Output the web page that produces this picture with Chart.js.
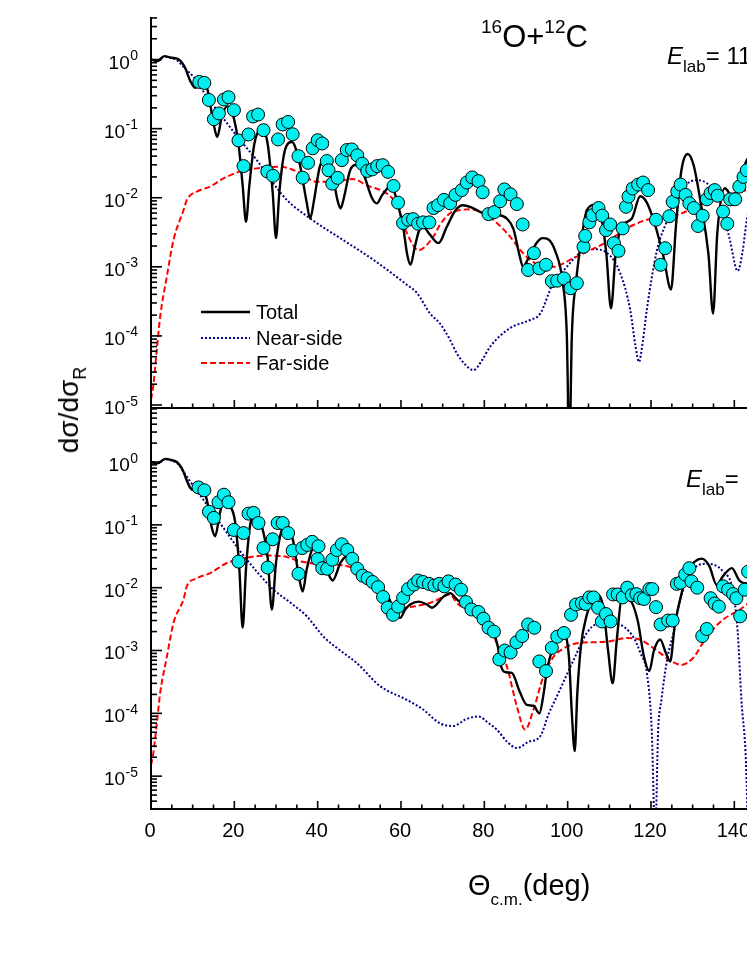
<!DOCTYPE html>
<html>
<head>
<meta charset="utf-8">
<script src="https://cdn.jsdelivr.net/npm/chart.js@4.4.1/dist/chart.umd.min.js"></script>
<style>
  html, body { margin: 0; padding: 0; background: #fff; overflow: hidden; }
  #wrap { position: relative; width: 747px; height: 967px; overflow: hidden; font-family: "Liberation Sans", Arial, sans-serif; }
  canvas { position: absolute; left: 0; top: 0; }
  .lbl { position: absolute; white-space: nowrap; color: #000; line-height: 1; }
</style>
</head>
<body>
<div id="wrap">
  <canvas id="top" width="920" height="967"></canvas>
  <canvas id="bottom" width="920" height="967"></canvas>
  <div class="lbl" style="left:481px; top:17px; font-size:31px;"><span style="font-size:19px; vertical-align:14px;">16</span>O+<span style="font-size:19px; vertical-align:14px;">12</span>C</div>
  <div class="lbl" style="left:667px; top:44px; font-size:24px;"><i>E</i><span style="font-size:17px; vertical-align:-8px;">lab</span>= 115.9 MeV</div>
  <div class="lbl" style="left:686px; top:467px; font-size:24px;"><i>E</i><span style="font-size:17px; vertical-align:-8px;">lab</span>= 124 MeV</div>
  <div class="lbl" style="left:468px; top:871px; font-size:29px;">&Theta;<span style="font-size:17px; vertical-align:-10px;">c.m.</span>(deg)</div>
  <div class="lbl" style="left:72px; top:410px; font-size:28px; transform: translate(-50%, -50%) rotate(-90deg);">d&sigma;/d&sigma;<span style="font-size:18px; vertical-align:-8px;">R</span></div>
</div>
<script>
// ---- x ticks ----
const xTickValues = [0, 20, 40, 60, 80, 100, 120, 140, 160, 180];

// ---- top panel ----
const topPtsX = [11.6, 12.8, 13.9, 15.1, 16.3, 17.5, 18.6, 19.9, 21.0, 22.2, 23.4, 24.5, 25.7, 27.0, 27.9, 29.3, 30.5, 31.6, 32.9, 34.0,
  35.4, 36.4, 37.7, 38.8, 40.0, 41.1, 42.2, 42.6, 43.5, 44.8, 45.8, 47.0, 48.2, 49.5, 50.7, 51.9, 53.1, 54.3, 55.6, 56.9,
  58.2, 59.3, 60.5, 61.7, 62.9, 64.1, 65.3, 66.8, 67.8, 68.9, 70.3, 71.8, 73.1, 74.6, 75.8, 77.1, 78.6, 79.6, 81.0, 82.4,
  83.8, 84.8, 86.3, 87.8, 89.2, 90.5, 91.9, 93.2, 94.8, 96.2, 97.5, 99.1, 100.7, 102.2, 103.8, 104.2, 105.2, 106.0, 107.4, 108.3,
  109.2, 110.2, 111.1, 112.2, 113.2, 114.0, 114.6, 115.6, 116.9, 118.1, 119.3, 121.2, 122.3, 123.4, 124.4, 125.2, 126.3, 127.1, 128.3, 129.2,
  130.3, 131.3, 132.4, 133.4, 134.3, 135.3, 136.0, 137.3, 138.3, 139.0, 140.2, 141.2, 142.2, 143.0];
const topPtsY = [0.474, 0.459, 0.26, 0.137, 0.166, 0.264, 0.285, 0.185, 0.0675, 0.0287, 0.0824, 0.150, 0.160, 0.095, 0.024, 0.0208, 0.0698, 0.115, 0.125, 0.083,
  0.040, 0.0195, 0.032, 0.052, 0.068, 0.061, 0.034, 0.025, 0.016, 0.0194, 0.035, 0.049, 0.050, 0.041, 0.031, 0.0244, 0.0257, 0.0287, 0.0296, 0.0237,
  0.0148, 0.0085, 0.0043, 0.0048, 0.0049, 0.0042, 0.0044, 0.0044, 0.0071, 0.0078, 0.0093, 0.0083, 0.011, 0.0129, 0.0166, 0.0197, 0.0174, 0.012, 0.0058, 0.0062,
  0.0089, 0.0132, 0.0112, 0.0081, 0.0041, 0.0009, 0.00158, 0.00095, 0.00107, 0.00062, 0.00063, 0.00068, 0.00049, 0.00058, 0.00195, 0.0028, 0.0044, 0.0056, 0.0071, 0.0055,
  0.0034, 0.0041, 0.0022, 0.0017, 0.0036, 0.0074, 0.0104, 0.0136, 0.0155, 0.0166, 0.0129, 0.0048, 0.00107, 0.00186, 0.0054, 0.0087, 0.0123, 0.0155, 0.011, 0.0083,
  0.0071, 0.0039, 0.0055, 0.0095, 0.0117, 0.0129, 0.0107, 0.0063, 0.0042, 0.0095, 0.0095, 0.0145, 0.020, 0.025];

const topTotX = [0, 1.5, 3.2, 5, 6.5, 8, 9.5, 10.6, 12.6, 13.5, 15, 15.9, 17, 18.3, 19.5, 21, 22, 22.8, 23.6, 24.8,
  26.6, 28, 29.2, 30.0, 30.8, 32.2, 33.8, 35.5, 37.3, 38.2, 39.1, 40.5, 41.8, 43.5, 44.8, 45.5, 46.3, 47.8, 49.4, 51,
  53, 54.2, 55.5, 57.8, 59, 60.5, 61.5, 62.3, 63.2, 64.3, 65.3, 66.8, 69.0, 71, 73, 74.9, 77, 79.7, 83, 85.4,
  87, 88.4, 89.3, 90.5, 92.5, 94, 95.3, 97, 98.8, 99.8, 100.4, 101, 102, 103.3, 104.6, 106.6, 108, 109.3, 110.4, 111.5,
  113, 115.4, 117.4, 119, 121, 123, 124.8, 126, 127.3, 128.8, 130.2, 132, 133.8, 134.9, 135.9, 137.7, 139.7, 141.5, 143, 146];
const topTotY = [1.0, 0.95, 1.12, 1.06, 1.02, 0.80, 0.48, 0.39, 0.47, 0.38, 0.12, 0.076, 0.15, 0.21, 0.17, 0.06, 0.015, 0.0045, 0.015, 0.06,
  0.10, 0.06, 0.012, 0.0026, 0.012, 0.05, 0.064, 0.035, 0.009, 0.005, 0.009, 0.028, 0.037, 0.022, 0.009, 0.007, 0.01, 0.025, 0.030, 0.022,
  0.010, 0.0083, 0.011, 0.015, 0.009, 0.0038, 0.0015, 0.00107, 0.0018, 0.0033, 0.0038, 0.003, 0.0022, 0.0038, 0.0065, 0.0078, 0.0072, 0.006, 0.0057, 0.005,
  0.0035, 0.0015, 0.001, 0.0013, 0.0022, 0.0026, 0.0025, 0.0017, 0.0006, 0.0001, 0.000002, 0.0001, 0.0006, 0.0025, 0.0066, 0.0079, 0.0055, 0.0015, 0.00025, 0.0015,
  0.0038, 0.005, 0.0105, 0.0085, 0.004, 0.0014, 0.00047, 0.004, 0.025, 0.043, 0.03, 0.008, 0.0015, 0.00021, 0.003, 0.0137, 0.0102, 0.02, 0.035, 0.06];

const topNearX = [0, 1.5, 3.2, 5, 6.5, 7.8, 10.2, 13.4, 17.4, 21.4, 25.4, 29.4, 32.6, 38.2, 45.4, 53.4, 61.4, 63.8, 67.0, 69.4,
  71.8, 73.4, 75.5, 77.4, 79.5, 81.4, 86.2, 91.0, 93.4, 96.5, 99.8, 103, 106.1, 109.4, 112.6, 115, 116.3, 117.1, 118, 119,
  121.4, 124.5, 125.4, 128, 131, 134.1, 136.5, 138.9, 140.8, 142, 143, 146];
const topNearY = [1.0, 0.95, 1.1, 1.05, 0.95, 0.78, 0.56, 0.29, 0.14, 0.068, 0.035, 0.016, 0.0093, 0.005, 0.0026, 0.00126, 0.00055, 0.00042, 0.00021, 0.00015,
  0.000087, 0.000056, 0.000038, 0.000032, 0.000045, 0.00007, 0.00013, 0.00017, 0.00021, 0.00058, 0.001, 0.0016, 0.0018, 0.0016, 0.00081, 0.00024, 0.00007, 0.000042, 0.00008, 0.00024,
  0.0017, 0.006, 0.0093, 0.015, 0.018, 0.015, 0.0093, 0.0025, 0.00087, 0.0017, 0.0048, 0.02];

const topFarX = [0, 0.55, 1.4, 2.2, 3.8, 5.4, 7.8, 8.6, 11, 14.2, 17.4, 21.4, 25.4, 31.0, 35.0, 39.8, 43.7, 48.5, 51.8, 56.6,
  59, 61.4, 64.2, 67.8, 69.4, 71.8, 72.6, 76.6, 80.6, 85.4, 89.3, 92.2, 96.5, 101.3, 105.4, 109.4, 114.2, 119, 125.4, 130.2,
  133.4, 137.3, 143, 146];
const topFarY = [1.2e-5, 1.9e-5, 6.3e-5, 1.9e-4, 7.2e-4, 0.00245, 0.0066, 0.0093, 0.0123, 0.0145, 0.019, 0.024, 0.0266, 0.028, 0.024, 0.017, 0.017, 0.0186, 0.0151, 0.0115,
  0.0079, 0.0031, 0.00174, 0.00275, 0.0041, 0.006, 0.0063, 0.0068, 0.0056, 0.0031, 0.00158, 0.00112, 0.001, 0.00133, 0.00174, 0.0023, 0.0036, 0.0048, 0.0054, 0.0071,
  0.0087, 0.0104, 0.0129, 0.014];

// ---- bottom panel ----
const botPtsX = [11.4, 12.8, 13.9, 15.1, 16.2, 17.5, 18.6, 19.9, 21.0, 22.2, 23.4, 24.6, 25.8, 27.0, 28.0, 29.2, 30.4, 31.6, 32.9, 34.0,
  35.4, 36.3, 37.5, 38.7, 40.0, 40.2, 41.1, 42.3, 43.5, 44.6, 45.8, 47.1, 48.3, 49.5, 50.8, 52.0, 53.2, 54.5, 55.7, 56.8,
  58.1, 59.3, 60.5, 61.7, 63.1, 64.1, 65.3, 66.7, 68.0, 69.2, 70.4, 71.4, 73.1, 74.4, 75.6, 76.9, 78.6, 79.8, 81.0, 82.3,
  83.6, 84.9, 86.3, 87.7, 89.1, 90.5, 92.0, 93.2, 94.8, 96.2, 97.5, 99.1, 100.8, 102.0, 103.4, 104.3, 105.2, 106.2, 107.3, 108.2,
  109.2, 110.3, 110.9, 112.0, 113.2, 114.3, 115.4, 116.5, 117.4, 118.3, 119.6, 120.3, 121.2, 122.3, 124.1, 125.2, 126.2, 127.1, 128.2, 129.2,
  129.7, 131.1, 132.3, 133.4, 134.3, 135.3, 136.3, 137.3, 138.5, 139.7, 140.5, 141.4, 142.5, 143.3];
const botPtsY = [0.394, 0.355, 0.162, 0.129, 0.229, 0.302, 0.229, 0.083, 0.026, 0.074, 0.151, 0.155, 0.107, 0.0427, 0.0209, 0.0589, 0.107, 0.107, 0.074, 0.0389,
  0.0166, 0.0427, 0.0479, 0.0537, 0.0285, 0.0457, 0.0204, 0.020, 0.0279, 0.0398, 0.049, 0.0398, 0.0288, 0.020, 0.0155, 0.0141, 0.0123, 0.0102, 0.0071, 0.0048,
  0.0037, 0.005, 0.0069, 0.0095, 0.0112, 0.013, 0.0123, 0.0115, 0.0108, 0.0115, 0.0105, 0.0126, 0.0112, 0.0093, 0.0059, 0.0045, 0.0041, 0.0032, 0.0023, 0.002,
  0.00072, 0.001, 0.00093, 0.00135, 0.0017, 0.0026, 0.0023, 0.00067, 0.00047, 0.0011, 0.00166, 0.0019, 0.0037, 0.0054, 0.0057, 0.0055, 0.007, 0.007, 0.0048, 0.0029,
  0.0038, 0.0029, 0.0078, 0.0078, 0.007, 0.01, 0.0076, 0.0079, 0.0068, 0.0066, 0.0095, 0.0095, 0.0049, 0.0026, 0.003, 0.003, 0.0115, 0.012, 0.0162, 0.0204,
  0.0126, 0.01, 0.0017, 0.0022, 0.0068, 0.0056, 0.005, 0.0105, 0.0093, 0.0079, 0.0068, 0.0035, 0.0093, 0.018];

const botTotX = [0, 1.5, 3.4, 5, 6.2, 7.4, 9.4, 10.2, 12.2, 13.4, 14.6, 15.4, 16.5, 17.8, 19, 20.2, 21.2, 22, 22.8, 23.8,
  25, 26.5, 28, 29, 30, 31.3, 32.6, 34, 35.5, 36.4, 37.4, 39.1, 41.5, 43.6, 45.5, 47.4, 50.2, 53.4, 56.6, 58.5,
  59.8, 61, 62.2, 64.3, 66.2, 67.4, 70.2, 71.8, 73.4, 77.4, 80, 82.2, 83.3, 83.8, 85.2, 86.6, 88.5, 90.2, 91.8, 93.2,
  94.2, 95, 96.6, 99.0, 100.3, 101.0, 101.7, 102.3, 103.2, 104.5, 105.5, 107, 108.5, 109.7, 110.8, 111.8, 113, 114.9, 116.8, 118.3,
  119.6, 120.7, 122.2, 123.6, 124.6, 125.7, 127, 128.8, 130.5, 132.2, 134, 135.8, 137.2, 139.4, 141.2, 143, 146];
const botTotY = [1.0, 0.95, 1.12, 1.07, 1.0, 0.79, 0.39, 0.36, 0.40, 0.25, 0.09, 0.066, 0.15, 0.28, 0.2, 0.11, 0.02, 0.0023, 0.02, 0.1,
  0.145, 0.1, 0.03, 0.0045, 0.025, 0.08, 0.1, 0.06, 0.015, 0.0087, 0.02, 0.043, 0.025, 0.013, 0.025, 0.033, 0.018, 0.0126, 0.0078, 0.0043,
  0.0033, 0.0045, 0.0054, 0.0060, 0.0054, 0.0048, 0.0072, 0.0082, 0.0065, 0.004, 0.0028, 0.0019, 0.0011, 0.00063, 0.00045, 0.00044, 0.00022, 0.000136, 0.000132, 0.0001,
  0.0002, 0.00047, 0.00115, 0.0018, 0.0008, 0.0001, 0.000025, 0.0002, 0.0012, 0.0035, 0.0055, 0.0078, 0.005, 0.001, 0.0003, 0.0015, 0.0065, 0.0063, 0.003, 0.0008,
  0.00047, 0.001, 0.0015, 0.0009, 0.00067, 0.0025, 0.0065, 0.018, 0.026, 0.029, 0.022, 0.011, 0.015, 0.0205, 0.013, 0.0117, 0.016];

const botNearX = [0, 1.5, 3.4, 5, 6.5, 7.8, 9.4, 13.4, 17.4, 21.4, 25.4, 29.4, 33.4, 37.4, 41.4, 45.4, 49.4, 55, 61.4, 65.3,
  69.4, 72.6, 75.5, 78.6, 81, 83, 85.5, 87.9, 90.5, 93.4, 95.5, 97.4, 101.4, 104.6, 107, 111.8, 115.7, 117.5, 119, 120.2,
  121, 121.7, 122.5, 124, 125.4, 127, 130, 133.4, 137.3, 139.7, 140.8, 141.7, 142.8, 143.3];
const botNearY = [1.0, 0.95, 1.1, 1.05, 0.93, 0.7, 0.49, 0.21, 0.089, 0.038, 0.018, 0.0093, 0.0058, 0.0035, 0.00166, 0.001, 0.00063, 0.00027, 0.000164, 0.000115,
  0.000069, 0.000063, 0.00008, 0.000089, 0.00007, 0.000055, 0.000035, 0.000028, 0.000035, 0.000043, 0.0001, 0.000186, 0.0007, 0.0019, 0.0026, 0.0026, 0.00166, 0.0009, 0.00044, 0.00005,
  0.000001, 0.00005, 0.000164, 0.0008, 0.0019, 0.0065, 0.019, 0.024, 0.018, 0.0087, 0.002, 0.000164, 0.000016, 0.000001];

const botFarX = [0, 0.55, 1.4, 2.2, 3.8, 5.4, 7.8, 8.6, 11, 14.2, 18.1, 22.9, 27.7, 31.7, 35.8, 39.8, 44.6, 48.5, 53.4, 56.6,
  59, 63, 67.8, 71.8, 73.4, 79, 82.2, 85.4, 87.8, 89.8, 91.8, 94.2, 96.6, 99.8, 103, 109.4, 114.2, 117.4, 121.4, 124.5,
  127.3, 130.1, 133.4, 137.3, 141.4, 143, 146];
const botFarY = [1.5e-5, 2.3e-5, 6.9e-5, 2.1e-4, 7.9e-4, 0.00275, 0.0065, 0.0105, 0.0141, 0.017, 0.0245, 0.030, 0.0324, 0.0316, 0.0263, 0.024, 0.0232, 0.0204, 0.0117, 0.0068,
  0.0047, 0.005, 0.006, 0.0078, 0.0057, 0.0035, 0.00166, 0.00056, 0.000129, 0.000055, 0.000115, 0.00039, 0.00079, 0.00115, 0.00132, 0.00138, 0.00158, 0.00148, 0.001, 0.0007,
  0.00059, 0.00076, 0.00166, 0.0031, 0.0045, 0.0054, 0.0065];

const FONT = '"Liberation Sans", Arial, sans-serif';

function zip(xs, ys) {
  return xs.map((x, i) => ({ x: x, y: ys[i] }));
}

function curve(label, xs, ys, color, dash, width, order) {
  return {
    label: label,
    data: zip(xs, ys),
    borderColor: color,
    borderWidth: width,
    borderDash: dash,
    pointRadius: 0,
    fill: false,
    cubicInterpolationMode: "monotone",
    order: order,
  };
}

function points(xs, ys) {
  return {
    label: "Data",
    data: zip(xs, ys),
    showLine: false,
    pointRadius: 6.5,
    pointBorderWidth: 1,
    pointBackgroundColor: "#00f0f0",
    pointBorderColor: "#000",
    order: 0,
  };
}

// axis lines, inward ticks and labels, drawn from the chart's own scales
const axisPlugin = {
  id: "axisPlugin",
  afterDraw(chart, args, opts) {
    const ctx = chart.ctx;
    const xs = chart.scales.x;
    const ys = chart.scales.y;
    const a = chart.chartArea;
    ctx.save();
    ctx.strokeStyle = "#000";
    ctx.fillStyle = "#000";
    ctx.lineWidth = 2;
    ctx.beginPath();
    ctx.moveTo(a.left, a.top);
    ctx.lineTo(a.left, a.bottom);
    ctx.lineTo(a.right, a.bottom);
    ctx.stroke();

    // y ticks (log)
    ctx.lineWidth = 1.6;
    const e0 = Math.floor(Math.log10(ys.min));
    const e1 = Math.ceil(Math.log10(ys.max));
    for (let e = e0; e <= e1; e++) {
      for (let m = 1; m <= 9; m++) {
        const v = m * Math.pow(10, e);
        if (v < ys.min || v > ys.max) continue;
        const py = ys.getPixelForValue(v);
        const len = m === 1 ? 11 : 6;
        ctx.beginPath();
        ctx.moveTo(a.left, py);
        ctx.lineTo(a.left + len, py);
        ctx.stroke();
        if (m === 1) {
          const exp = String(e);
          ctx.font = "14px " + FONT;
          const ew = ctx.measureText(exp).width;
          ctx.textBaseline = "alphabetic";
          ctx.textAlign = "left";
          ctx.fillText(exp, a.left - 13 - ew, py + 0.5);
          ctx.font = "19px " + FONT;
          ctx.textAlign = "right";
          ctx.fillText("10", a.left - 13 - ew - 0.5, py + 9);
        }
      }
    }

    // x ticks
    for (let v = 0; v <= xs.max; v += 5) {
      const px = xs.getPixelForValue(v);
      const len = v % 20 === 0 ? 8 : 4.5;
      ctx.beginPath();
      ctx.moveTo(px, a.bottom);
      ctx.lineTo(px, a.bottom - len);
      ctx.stroke();
    }
    if (opts.xLabels) {
      ctx.font = "20px " + FONT;
      ctx.textAlign = "center";
      ctx.textBaseline = "alphabetic";
      xTickValues.forEach((v) => {
        ctx.fillText(String(v), xs.getPixelForValue(v) - 1, a.bottom + 28);
      });
    }

    // legend
    if (opts.legend) {
      const items = chart.data.datasets.filter((d) => d.legendRow !== undefined);
      items.forEach((d) => {
        const y = d.legendRow;
        ctx.strokeStyle = d.borderColor;
        ctx.lineWidth = d.borderWidth;
        ctx.setLineDash(d.borderDash || []);
        ctx.beginPath();
        ctx.moveTo(201, y);
        ctx.lineTo(250, y);
        ctx.stroke();
        ctx.setLineDash([]);
        ctx.font = "20px " + FONT;
        ctx.textAlign = "left";
        ctx.textBaseline = "middle";
        ctx.fillText(d.label, 256, y + 1);
      });
    }
    ctx.restore();
  },
};

function makeChart(id, dsets, yMin, yMax, padTop, xHeight, opts) {
  return new Chart(document.getElementById(id).getContext("2d"), {
    type: "line",
    data: { datasets: dsets },
    options: {
      responsive: false,
      animation: false,
      devicePixelRatio: 1,
      layout: { padding: { top: padTop, right: 19, bottom: 0, left: 0 } },
      plugins: { legend: { display: false }, tooltip: { enabled: false }, axisPlugin: opts },
      scales: {
        x: {
          type: "linear",
          min: 0,
          max: 180,
          grid: { display: false },
          border: { display: false },
          ticks: { display: false },
          afterFit: (s) => { s.height = xHeight; },
        },
        y: {
          type: "logarithmic",
          min: yMin,
          max: yMax,
          grid: { display: false },
          border: { display: false },
          ticks: { display: false },
          afterFit: (s) => { s.width = 151; },
        },
      },
    },
    plugins: [axisPlugin],
  });
}

const topTotal = curve("Total", topTotX, topTotY, "#000000", [], 2.4, 1);
topTotal.legendRow = 312;
const topNear = curve("Near-side", topNearX, topNearY, "#00008b", [2, 2], 2, 3);
topNear.legendRow = 338;
const topFar = curve("Far-side", topFarX, topFarY, "#ff0000", [6, 3], 2, 2);
topFar.legendRow = 363;

makeChart("top", [points(topPtsX, topPtsY), topTotal, topFar, topNear],
  9.05e-6, 4.13, 17, 967 - 408, { xLabels: false, legend: true });

makeChart("bottom", [
  points(botPtsX, botPtsY),
  curve("Total", botTotX, botTotY, "#000000", [], 2.4, 1),
  curve("Far-side", botFarX, botFarY, "#ff0000", [6, 3], 2, 2),
  curve("Near-side", botNearX, botNearY, "#00008b", [2, 2], 2, 3),
], 3.0e-6, 7.24, 408, 967 - 809, { xLabels: true, legend: false });
</script>
</body>
</html>
